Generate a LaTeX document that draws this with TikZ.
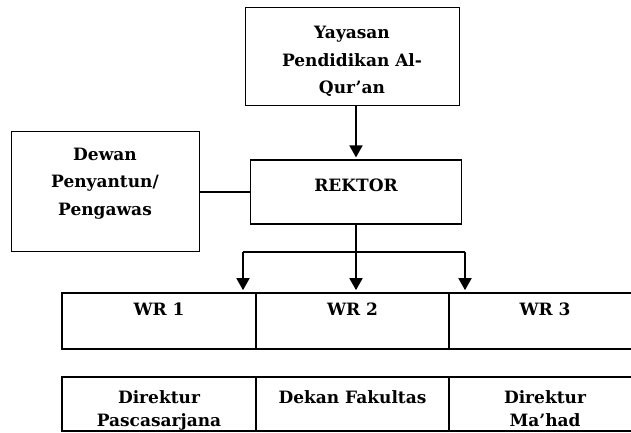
\documentclass[tikz,border=0pt]{standalone}
\usepackage{fontspec}
\setmainfont{DejaVu Serif}
\usetikzlibrary{arrows.meta,positioning}

\begin{document}
\begin{tikzpicture}[x=1pt, y=-1pt,
  box/.style={draw, line width=0.9pt, inner sep=0pt},
  cell/.style={draw, line width=1.7pt, inner sep=0pt},
  lbl/.style={align=center, inner sep=0pt, anchor=base,
              font=\bfseries\fontsize{17}{27.5}\selectfont},
  tlbl/.style={lbl, font=\bfseries\fontsize{17}{23}\selectfont},
  link/.style={line width=1.8pt},
  arr/.style={link, -{Triangle[length=12pt, width=13pt]}, shorten >=2pt}]
\useasboundingbox (0,0) rectangle (631,433);
\clip (0,0) rectangle (631,433);
% upper boxes
\node[box, minimum width=214pt, minimum height=98pt] (yayasan) at (352,56) {};
\node[lbl] (yayasantxt) at (352,94) {Yayasan\\Pendidikan Al-\\Qur’an};
\node[box, line width=1.2pt, minimum width=211pt, minimum height=64pt] (rektor) at (356,192) {};
\node[lbl] (rektortxt) at (356,191) {REKTOR};
\node[box, minimum width=188pt, minimum height=120pt] (dewan) at (105,191) {};
\node[lbl] (dewantxt) at (105,215) {Dewan\\Penyantun/\\Pengawas};
% table rows
\node[cell, minimum width=194pt, minimum height=56pt] (wr1) at (159,321) {};
\node[cell, minimum width=193pt, minimum height=56pt] (wr2) at (352.5,321) {};
\node[cell, minimum width=192pt, minimum height=56pt] (wr3) at (545,321) {};
\node[tlbl] (wr1txt) at (wr1 |- 0,315) {WR 1};
\node[tlbl] (wr2txt) at (wr2 |- 0,315) {WR 2};
\node[tlbl] (wr3txt) at (wr3 |- 0,315) {WR 3};
\node[cell, minimum width=194pt, minimum height=54pt] (dir1) at (159,404) {};
\node[cell, minimum width=193pt, minimum height=54pt] (dekan) at (352.5,404) {};
\node[cell, minimum width=192pt, minimum height=54pt] (dir3) at (545,404) {};
\node[tlbl] (dir1txt) at (dir1 |- 0,426) {Direktur\\Pascasarjana};
\node[tlbl] (dekantxt) at (dekan |- 0,403) {Dekan Fakultas};
\node[tlbl] (dir3txt) at (dir3 |- 0,426) {Direktur\\Ma’had};
% connectors
\draw[arr] (yayasan.south -| rektor.north) -- (rektor.north);
\draw[link, line width=1.4pt] (dewan.east |- rektor.west) -- (rektor.west);
\coordinate (b1) at (243,252);
\coordinate (b3) at (465,252);
\draw[link] (b1) -- (b3);
\draw[arr] (rektor.south) -- (rektor.south |- wr2.north);
\draw[arr] (b1) -- (b1 |- wr1.north);
\draw[arr] (b3) -- (b3 |- wr3.north);
\end{tikzpicture}
\end{document}
